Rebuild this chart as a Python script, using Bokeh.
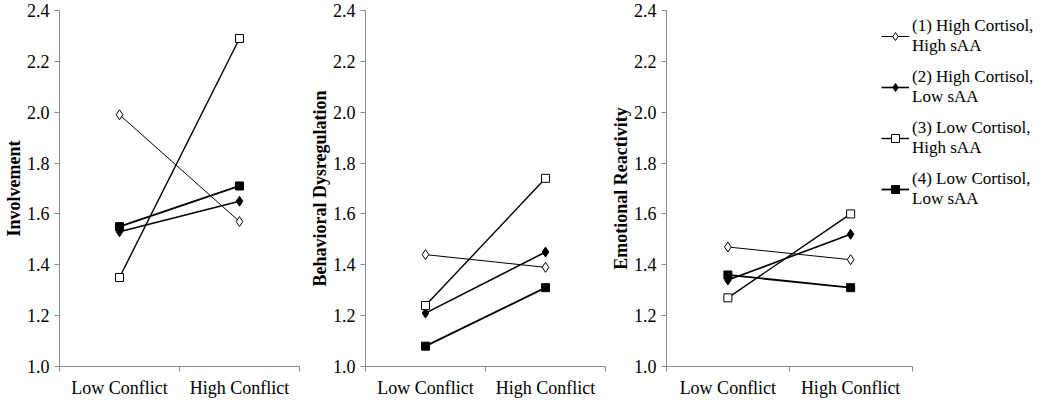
from bokeh.plotting import figure
from bokeh.layouts import row
from bokeh.models import (Range1d, FixedTicker, NumeralTickFormatter, Legend, LegendItem)
from bokeh.embed import file_html
from bokeh.resources import INLINE

categories = ["Low Conflict", "High Conflict"]
groups = ["(1) High Cortisol,\nHigh sAA", "(2) High Cortisol,\nLow sAA",
          "(3) Low Cortisol,\nHigh sAA", "(4) Low Cortisol,\nLow sAA"]
y_ticks = [1.0, 1.2, 1.4, 1.6, 1.8, 2.0, 2.2, 2.4]

involvement = [[1.99, 1.57], [1.53, 1.65], [1.35, 2.29], [1.55, 1.71]]
behavioral = [[1.44, 1.39], [1.21, 1.45], [1.24, 1.74], [1.08, 1.31]]
emotional = [[1.47, 1.42], [1.34, 1.52], [1.27, 1.60], [1.36, 1.31]]

titles = ["Involvement", "Behavioral Dysregulation", "Emotional Reactivity"]
panels = [involvement, behavioral, emotional]

markers = ["diamond", "diamond", "square", "square"]
fills = ["white", "black", "white", "black"]
sizes = [10, 10, 8, 8]
widths = [1, 1.6, 1.4, 1.8]

FONT = "Liberation Serif"
AXIS_COLOR = "#8a8a8a"

n = len(categories)
x_centers = [i + 0.5 for i in range(n)]
x_bounds = list(range(n + 1))

fig_widths = [306, 301, 442]
right_borders = [7, 2, 0]
x_ends = [n, n, n * 1.56]   # last panel's frame also hosts the legend

figs = []
for k, (title, data) in enumerate(zip(titles, panels)):
    p = figure(width=fig_widths[k], height=400, output_backend="svg", toolbar_location=None,
               x_range=Range1d(0, x_ends[k]), y_range=Range1d(y_ticks[0], y_ticks[-1]),
               min_border=0, min_border_left=58, min_border_right=right_borders[k],
               min_border_top=10, min_border_bottom=0)
    p.outline_line_color = None
    p.grid.visible = False
    p.background_fill_color = "white"
    p.border_fill_color = "white"

    xa = p.xaxis[0]
    xa.ticker = FixedTicker(ticks=x_centers, minor_ticks=x_bounds)
    xa.bounds = (0, n)
    xa.major_label_overrides = {x: c for x, c in zip(x_centers, categories)}
    xa.major_tick_line_color = None
    xa.major_tick_out = 0
    xa.major_tick_in = 0
    xa.minor_tick_out = 5
    xa.minor_tick_in = 0
    xa.minor_tick_line_color = AXIS_COLOR
    xa.axis_line_color = AXIS_COLOR
    xa.major_label_text_font = FONT
    xa.major_label_text_font_size = "18px"
    xa.major_label_text_color = "black"
    xa.major_label_standoff = 6
    xa.axis_label_standoff = 0
    xa.major_label_text_line_height = 1.0

    ya = p.yaxis[0]
    ya.ticker = FixedTicker(ticks=y_ticks)
    ya.formatter = NumeralTickFormatter(format="0.0")
    ya.major_tick_out = 5
    ya.major_tick_in = 0
    ya.minor_tick_line_color = None
    ya.major_tick_line_color = AXIS_COLOR
    ya.axis_line_color = AXIS_COLOR
    ya.major_label_text_font = FONT
    ya.major_label_text_font_size = "18px"
    ya.major_label_text_color = "black"
    ya.major_label_standoff = 5
    ya.axis_label = title
    ya.axis_label_text_font = FONT
    ya.axis_label_text_font_size = "18px"
    ya.axis_label_text_font_style = "bold"
    ya.axis_label_text_color = "black"
    ya.axis_label_standoff = 0

    items = []
    for s, vals in enumerate(data):
        lr = p.line(x_centers, vals, line_color="black", line_width=widths[s])
        sr = p.scatter(x_centers, vals, marker=markers[s], size=sizes[s],
                       fill_color=fills[s], line_color="black", line_width=1)
        items.append(LegendItem(label=groups[s], renderers=[lr, sr]))

    if k == len(titles) - 1:
        leg = Legend(items=items, location=(215, 157))
        leg.label_text_font = FONT
        leg.label_text_font_size = "17px"
        leg.label_text_color = "black"
        leg.glyph_width = 28
        leg.label_standoff = 3
        leg.spacing = 11
        leg.padding = 0
        leg.margin = 0
        leg.border_line_color = None
        leg.background_fill_alpha = 0
        p.add_layout(leg, "center")
    figs.append(p)

layout = row(*figs)
open("out.html", "w").write(file_html(layout, INLINE))
